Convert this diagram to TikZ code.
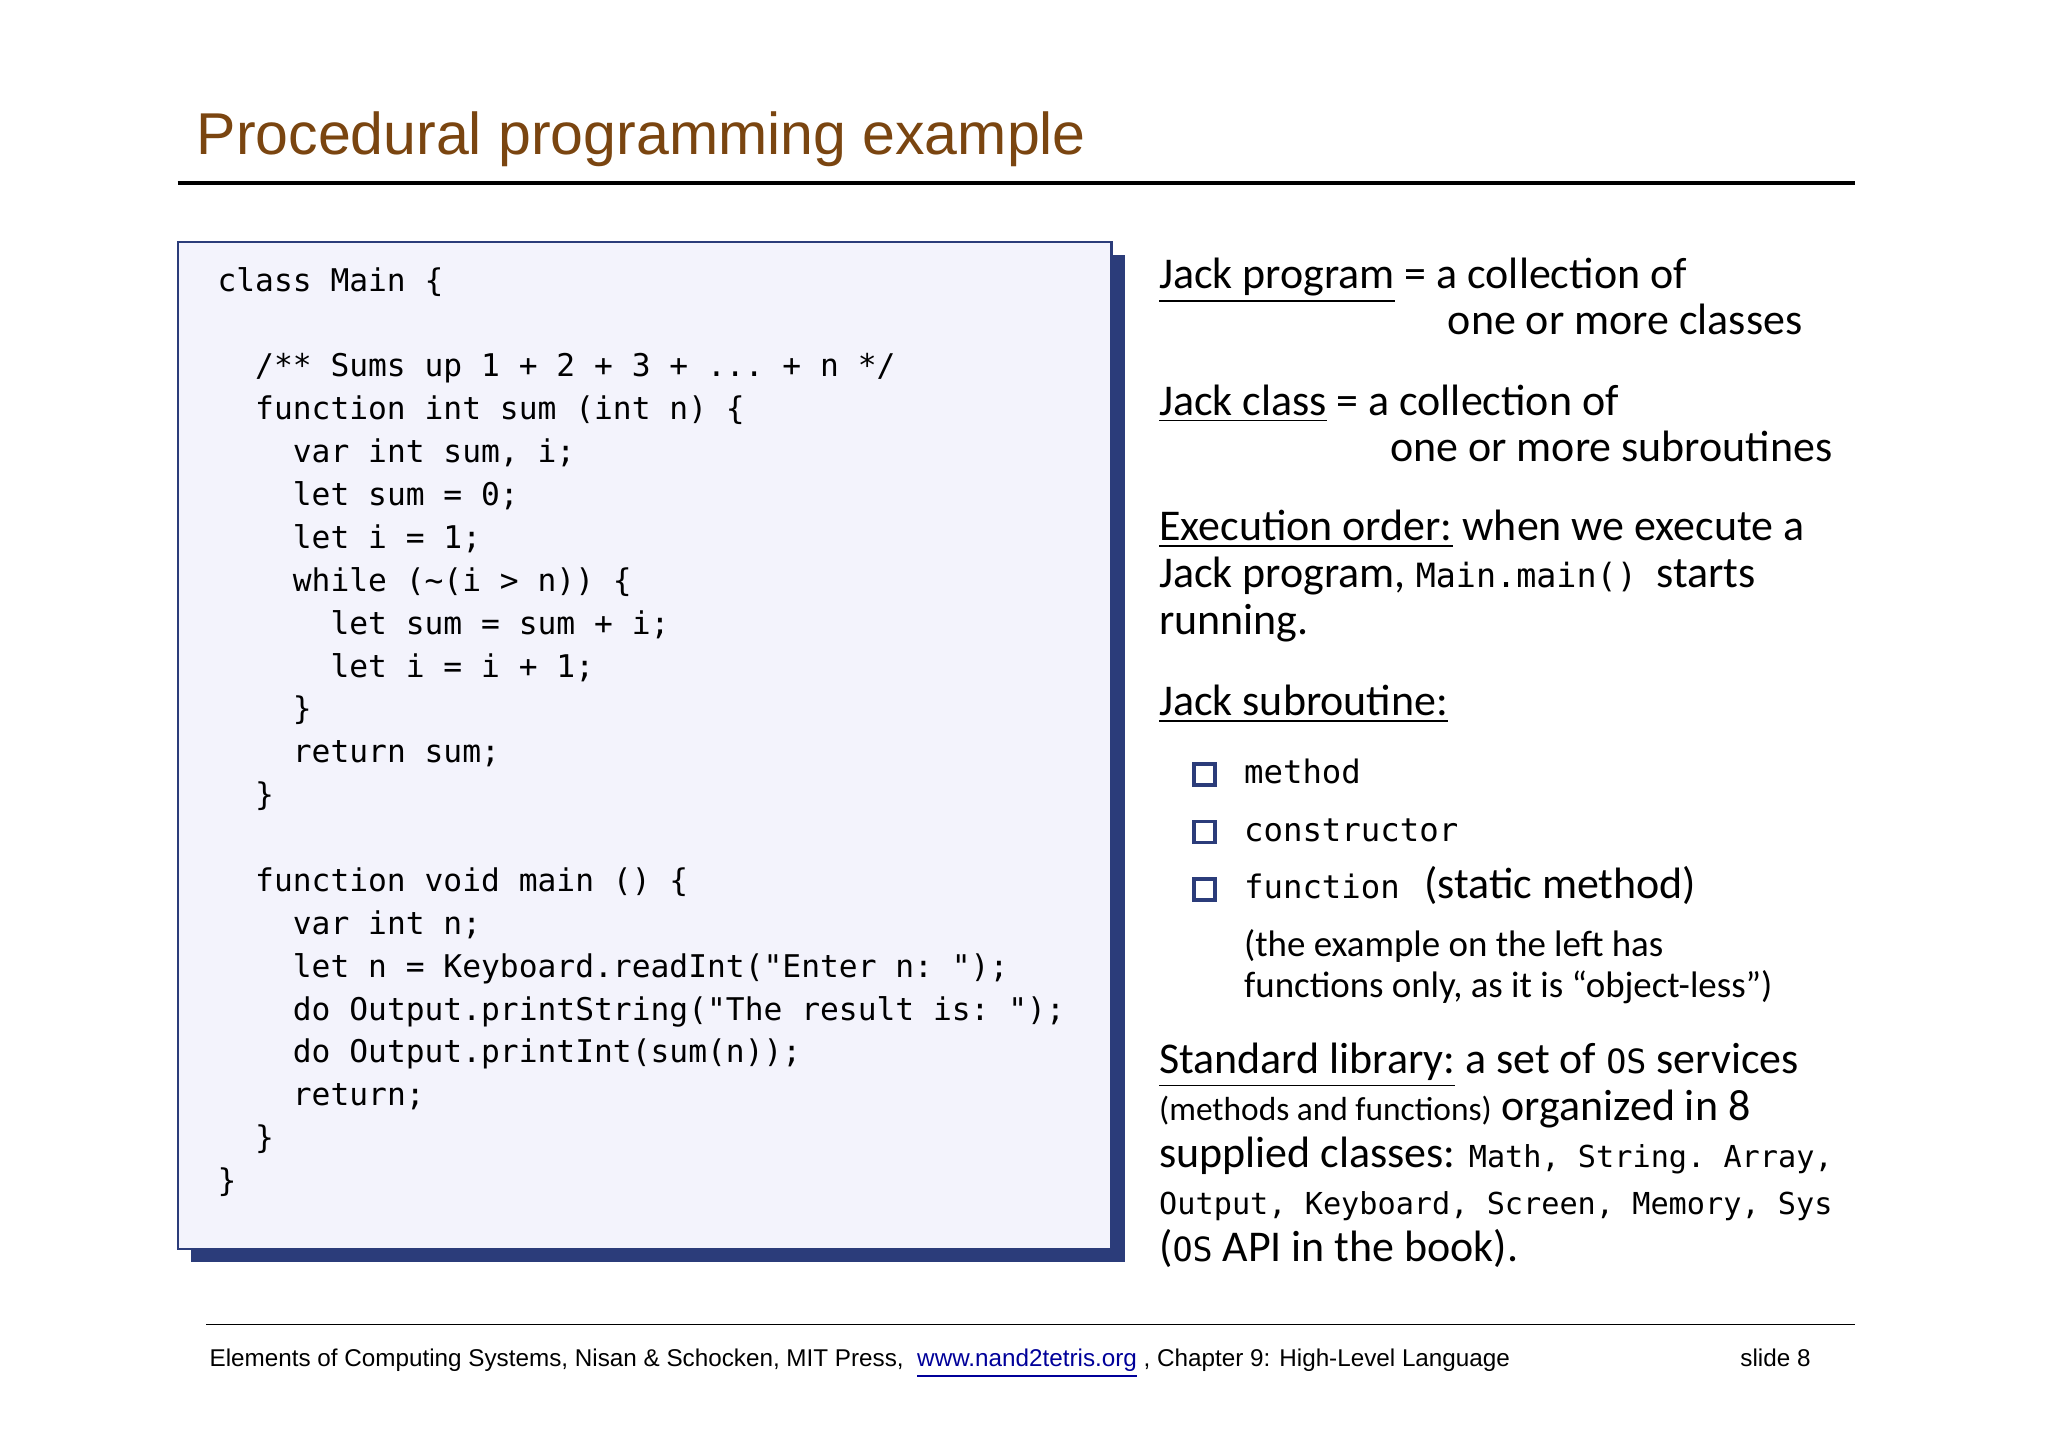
\documentclass[tikz,border=0pt]{standalone}
\usepackage{fontspec}
\setmainfont{Carlito}
\setmonofont{DejaVu Sans Mono}
\newfontfamily\arialfont{Liberation Sans}
\usetikzlibrary{positioning}
\definecolor{titlebrown}{HTML}{7A4510}
\definecolor{navy}{HTML}{2B3C7A}
\definecolor{codebg}{HTML}{F3F3FC}
\newcommand{\ind}[1]{\hspace*{#1\fontcharwd\font`0}}
\tikzstyle{txt} = [anchor=base west, inner sep=0pt, font=\fontsize{12.5}{13.3}\selectfont]
\tikzstyle{sml} = [anchor=base west, inner sep=0pt, font=\fontsize{10.5}{11.8}\selectfont]
\tikzstyle{bul} = [draw=navy, line width=1.1pt, fill=white, minimum size=6pt, inner sep=0pt]
\begin{document}
\begin{tikzpicture}[x=0.01306cm, y=-0.01306cm]
    \useasboundingbox (0,0) rectangle (1568,1108);
    % Title and rules
    \node [anchor=base west, inner sep=0pt, text=titlebrown, font=\arialfont\fontsize{16.8}{20}\selectfont] (title) at (150,118) {Procedural programming example};
    \draw [line width=1.1pt] (136,140) -- (1420,140);
    \draw [line width=0.5pt] (158,1014) -- (1420,1014);
    % Code box
    \fill [navy] (146,195) rectangle (861,966);
    \draw [navy, fill=codebg, line width=0.6pt] (136,185) rectangle (851,956);
    \node [anchor=north west, inner sep=0pt, align=left, font=\ttfamily\fontsize{8.9}{12.2}\selectfont] (code) at (166,204) {%
class Main \{\\
\mbox{}\\
\ind{2}/** Sums up 1 + 2 + 3 + ... + n */\\
\ind{2}function int sum (int n) \{\\
\ind{4}var int sum, i;\\
\ind{4}let sum = 0;\\
\ind{4}let i = 1;\\
\ind{4}while (\textasciitilde(i > n)) \{\\
\ind{6}let sum = sum + i;\\
\ind{6}let i = i + 1;\\
\ind{4}\}\\
\ind{4}return sum;\\
\ind{2}\}\\
\mbox{}\\
\ind{2}function void main () \{\\
\ind{4}var int n;\\
\ind{4}let n = Keyboard.readInt("Enter n: ");\\
\ind{4}do Output.printString("The result is: ");\\
\ind{4}do Output.printInt(sum(n));\\
\ind{4}return;\\
\ind{2}\}\\
\}};
    % Right column
    \node [txt] (prog) at (887,221) {\underline{Jack program} = a collection of};
    \node [txt] (prog2) at (1108,256) {one or more classes};
    \node [txt] (cls) at (887,318) {\underline{Jack class} = a collection of};
    \node [txt] (cls2) at (1064,353) {one or more subroutines};
    \node [txt] (exec) at (887,414) {\underline{Execution order:} when we execute a};
    \node [txt] (exec2) at (887,450) {Jack program, {\ttfamily\fontsize{9.5}{12}\selectfont Main.main()} \ starts};
    \node [txt] (exec3) at (887,486) {running.};
    \node [txt] (sub) at (887,548) {\underline{Jack subroutine:}};
    \foreach \y/\w [count=\i] in {600/method, 644/constructor, 688/function} {
        \node [bul] (b\i) at (922,\y-7) {};
        \node [anchor=base west, inner sep=0pt, font=\ttfamily\fontsize{9.2}{12}\selectfont] (w\i) at (952,\y) {\w};
    }
    \node [txt] (stat) at (1090,688) {(static method)};
    \node [sml] (note) at (952,732) {(the example on the left has};
    \node [sml] (note2) at (952,764) {functions only, as it is “object-less”)};
    \node [txt] (lib) at (887,822) {\underline{Standard library:} a set of {\ttfamily\fontsize{9.5}{12}\selectfont OS} services};
    \node [txt] (lib2) at (887,858) {{\fontsize{9.5}{12}\selectfont (methods and functions)} organized in 8};
    \node [txt] (lib3) at (887,894) {supplied classes: {\ttfamily\fontsize{8.6}{12}\selectfont Math, String. Array,}};
    \node [anchor=base west, inner sep=0pt, font=\ttfamily\fontsize{8.6}{12}\selectfont] (lib4) at (887,930) {Output, Keyboard, Screen, Memory, Sys};
    \node [txt] (lib5) at (887,966) {({\ttfamily\fontsize{9.5}{12}\selectfont OS} API in the book).};
    % Footer
    \node [anchor=base west, inner sep=0pt, font=\arialfont\fontsize{6.9}{8}\selectfont] (foot) at (160,1046) {Elements of Computing Systems, Nisan \& Schocken, MIT Press, \ \textcolor{blue!60!black}{\underline{www.nand2tetris.org}} , Chapter 9: High-Level Language};
    \node [anchor=base west, inner sep=0pt, font=\arialfont\fontsize{6.9}{8}\selectfont] (slide) at (1332,1046) {slide 8};
\end{tikzpicture}
\end{document}
